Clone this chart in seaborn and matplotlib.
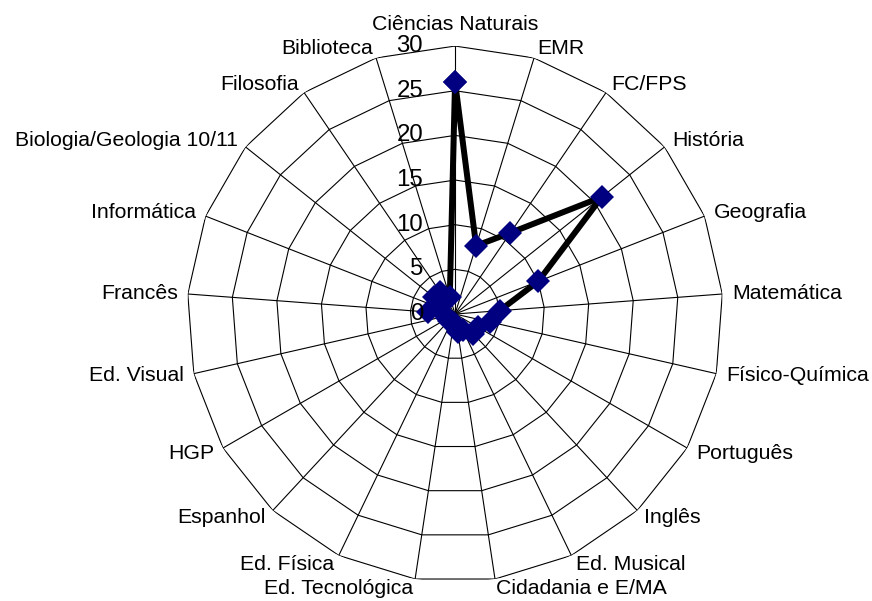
import numpy as np
import pandas as pd
import seaborn as sns
import matplotlib.pyplot as plt

categories = ['Ciências Naturais', 'EMR', 'FC/FPS', 'História', 'Geografia',
              'Matemática', 'Físico-Química', 'Português', 'Inglês',
              'Ed. Musical', 'Cidadania e E/MA', 'Ed. Tecnológica', 'Ed. Física',
              'Espanhol', 'HGP', 'Ed. Visual', 'Francês', 'Informática',
              'Biologia/Geologia 10/11', 'Filosofia', 'Biblioteca']
values = [26, 8, 11, 21, 10, 5, 4, 3, 3, 2, 2, 1, 1, 1, 1, 1, 3, 2, 3, 3, 2]
ring_levels = [0, 5, 10, 15, 20, 25, 30]

sns.set_style('white')
plt.rcParams['font.family'] = ['Liberation Sans', 'DejaVu Sans']
plt.rcParams['text.color'] = 'black'

n = len(categories)
theta = np.linspace(0, 2 * np.pi, n, endpoint=False)
# close the polygon by repeating the first point at 2*pi
df = pd.DataFrame({'theta': np.append(theta, 2 * np.pi),
                   'value': values + values[:1]})

fig = plt.figure(figsize=(8.72, 6.01), dpi=100)
ax = fig.add_axes([0.2145, 0.0316, 0.6147, 0.8918], projection='polar')
ax.set_theta_zero_location('N')
ax.set_theta_direction(-1)
ax.grid(False)
ax.spines['polar'].set_visible(False)
ax.set_xticks([])
ax.set_yticks([])
ax.set_ylim(0, ring_levels[-1])

# polygon web
closed = np.append(theta, theta[0])
for r in ring_levels[1:]:
    ax.plot(closed, [r] * len(closed), color='black', lw=0.8, zorder=1)
for t in theta:
    ax.plot([t, t], [0, ring_levels[-1]], color='black', lw=0.8, zorder=1)

sns.lineplot(data=df, x='theta', y='value', sort=False, estimator=None, ax=ax,
             color='black', lw=4.3, marker='D', markersize=12.5,
             markerfacecolor='#000080', markeredgecolor='#000080',
             markeredgewidth=0, zorder=3)
ax.set_xlabel('')
ax.set_ylabel('')

# radial tick labels
for r in ring_levels:
    ax.annotate(str(r), xy=(0, r), xytext=(-32, 0), textcoords='offset pixels',
                ha='right', va='center', fontsize=17.3, color='black', zorder=4)

# category labels
for t, cat in zip(theta, categories):
    s, c = np.sin(t), np.cos(t)
    if abs(s) < 0.1:
        ha, va, off = 'center', 'bottom', (0, 12)
    else:
        ha = 'left' if s > 0 else 'right'
        va = 'center'
        off = (10 * s, 10 * c)
    ax.annotate(cat, xy=(t, ring_levels[-1]), xytext=off, color='black',
                textcoords='offset pixels', ha=ha, va=va, fontsize=15.3)

fig.savefig('out.png', dpi=100)
